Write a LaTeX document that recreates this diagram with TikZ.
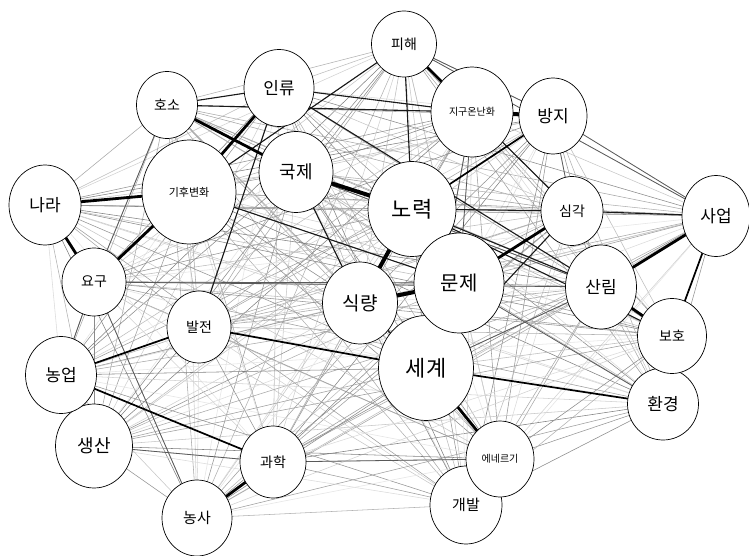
\documentclass[tikz,border=0pt]{standalone}
\usepackage{fontspec}
\newfontfamily\kr{Noto Sans CJK KR}
\usetikzlibrary{shapes.geometric,backgrounds}
\begin{document}
\begin{tikzpicture}[x=1pt,y=-1pt,
  kw/.style={ellipse, draw=black, line width=0.7pt, fill=white, inner sep=0pt},
  wh/.style 2 args={minimum width=#1pt, minimum height=#2pt},
  fs/.style={font=\kr\fontsize{#1}{#1}\selectfont},
  huge/.style={line width=4pt, black},
  heavy/.style={line width=2.8pt, black},
  strong/.style={line width=1.7pt, black},
  medium/.style={line width=1.1pt, black!90},
  faint/.style={line width=0.8pt, black!65},
]
\useasboundingbox (0,0) rectangle (749,556);
% nodes
\node[kw, wh={65}{66}, fs=14] (pihae) at (404,44) {피해};
\node[kw, wh={70}{77}, fs=17] (inryu) at (279,88) {인류};
\node[kw, wh={61}{67}, fs=14] (hoso) at (167,105) {호소};
\node[kw, wh={82}{90}, fs=10] (gw) at (472,112) {지구온난화};
\node[kw, wh={68}{76}, fs=17] (bangji) at (553,116) {방지};
\node[kw, wh={94}{104}, fs=11] (cc) at (189,192) {기후변화};
\node[kw, wh={74}{81}, fs=18] (gukje) at (296,172) {국제};
\node[kw, wh={88}{95}, fs=22] (noryeok) at (412,209) {노력};
\node[kw, wh={62}{69}, fs=14] (simgak) at (572,211) {심각};
\node[kw, wh={68}{81}, fs=17] (saeop) at (716,216) {사업};
\node[kw, wh={72}{80}, fs=17] (nara) at (45,205) {나라};
\node[kw, wh={64}{68}, fs=14] (yogu) at (94,282) {요구};
\node[kw, wh={75}{82}, fs=19] (sikryang) at (360,303) {식량};
\node[kw, wh={71}{84}, fs=17] (sanrim) at (601,287) {산림};
\node[kw, wh={64}{72}, fs=14] (baljeon) at (199,327) {발전};
\node[kw, wh={71}{72}, fs=17] (hwangyeong) at (663,404) {환경};
\node[kw, wh={69}{75}, fs=14] (boho) at (672,336) {보호};
\node[kw, wh={77}{84}, fs=18] (saengsan) at (94,446) {생산};
\node[kw, wh={71}{77}, fs=17] (nongeop) at (61,375) {농업};
\node[kw, wh={95}{105}, fs=22] (segye) at (426,368) {세계};
\node[kw, wh={90}{100}, fs=20] (munje) at (459,283) {문제};
\node[kw, wh={66}{72}, fs=14] (gwahak) at (273,462) {과학};
\node[kw, wh={72}{78}, fs=15] (gaebal) at (466,505) {개발};
\node[kw, wh={68}{76}, fs=10] (energy) at (500,459) {에네르기};
\node[kw, wh={70}{76}, fs=15] (nongsa) at (197,518) {농사};
\def\allnodes{pihae,inryu,hoso,gw,bangji,cc,gukje,noryeok,simgak,saeop,nara,yogu,sikryang,sanrim,baljeon,hwangyeong,boho,saengsan,nongeop,segye,munje,gwahak,gaebal,energy,nongsa}
\begin{pgfonlayer}{background}
\fill[white] (0,0) rectangle (749,556);
\foreach \a [count=\i] in \allnodes {
  \foreach \b [count=\j] in \allnodes {
    \ifnum\j>\i
      \pgfmathtruncatemacro\g{mod(\i*13+\j*7+\i*\j*5,11)}
      \pgfmathtruncatemacro\gg{10+4*\g}
      \draw[line width=0.55pt, black!\gg] (\a.center) -- (\b.center);
    \fi
  }
}
\foreach \u/\v in {hoso/yogu, yogu/nongsa, yogu/nongeop, nongeop/saengsan, saengsan/gwahak,
  gwahak/energy, gw/munje, gw/segye, bangji/saeop, pihae/saeop, pihae/bangji, gukje/sanrim,
  bangji/simgak, segye/sanrim, munje/hwangyeong, yogu/munje, yogu/sanrim}
  \draw[faint] (\u.center) -- (\v.center);
\foreach \u/\v in {pihae/noryeok, pihae/cc, hoso/inryu, hoso/gw, inryu/gw, gw/simgak,
  noryeok/simgak, simgak/saeop, noryeok/sanrim, cc/munje, gukje/sikryang, inryu/baljeon,
  inryu/sanrim, simgak/segye, sikryang/segye, noryeok/boho}
  \draw[medium] (\u.center) -- (\v.center);
\foreach \u/\v in {nongeop/baljeon, noryeok/bangji, baljeon/segye, segye/hwangyeong,
  nongeop/gwahak, saeop/boho}
  \draw[strong] (\u.center) -- (\v.center);
\foreach \u/\v in {hoso/gukje, inryu/cc, nara/cc, cc/yogu, nara/yogu, pihae/gw,
  noryeok/munje, simgak/munje, saeop/sanrim, sanrim/boho, segye/energy, gwahak/nongsa}
  \draw[heavy] (\u.center) -- (\v.center);
\foreach \u/\v in {gukje/noryeok, gw/bangji, noryeok/sikryang, sikryang/munje}
  \draw[huge] (\u.center) -- (\v.center);
\end{pgfonlayer}
\end{tikzpicture}
\end{document}
